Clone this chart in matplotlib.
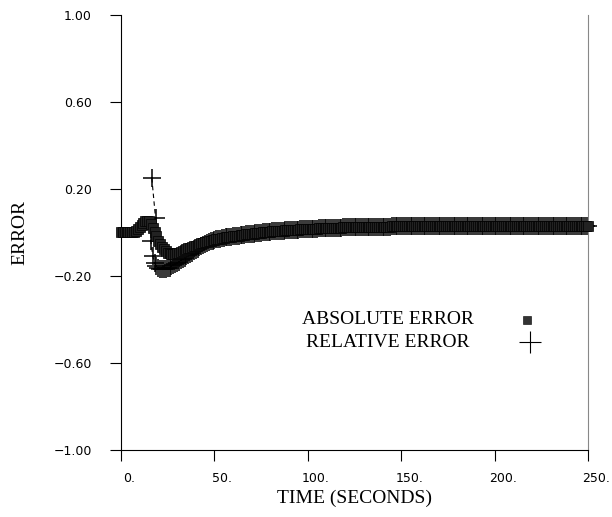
import numpy as np
import matplotlib
matplotlib.use("Agg")
import matplotlib.pyplot as plt
import matplotlib.transforms as mtransforms

# time grid (seconds), one sample per second
time = np.arange(0, 251)

# absolute error, t = 0 .. 250
abs_err = [
    0.000, 0.000, 0.000, 0.000, 0.000, 0.000, 0.000, 0.003, 0.008, 0.015,
    0.024, 0.034, 0.044, 0.051, 0.055, 0.052, 0.040, 0.022, 0.002, -0.018,
    -0.037, -0.053, -0.066, -0.077, -0.085, -0.092, -0.096, -0.099, -0.100, -0.098,
    -0.096, -0.092, -0.088, -0.084, -0.080, -0.077, -0.073, -0.070, -0.066, -0.063,
    -0.060, -0.057, -0.053, -0.050, -0.047, -0.045, -0.042, -0.040, -0.038, -0.036,
    -0.034, -0.032, -0.030, -0.028, -0.027, -0.025, -0.023, -0.022, -0.020, -0.019,
    -0.018, -0.016, -0.015, -0.014, -0.012, -0.011, -0.010, -0.009, -0.008, -0.007,
    -0.006, -0.005, -0.004, -0.003, -0.002, -0.001, 0.000, 0.001, 0.002, 0.003,
    0.004, 0.005, 0.006, 0.006, 0.007, 0.008, 0.008, 0.009, 0.010, 0.010,
    0.011, 0.011, 0.012, 0.012, 0.013, 0.013, 0.014, 0.014, 0.015, 0.015,
    0.016, 0.016, 0.017, 0.017, 0.018, 0.018, 0.019, 0.019, 0.019, 0.020,
    0.020, 0.020, 0.021, 0.021, 0.021, 0.022, 0.022, 0.022, 0.022, 0.023,
    0.023, 0.023, 0.023, 0.024, 0.024, 0.024, 0.024, 0.025, 0.025, 0.025,
    0.025, 0.025, 0.026, 0.026, 0.026, 0.026, 0.026, 0.026, 0.027, 0.027,
    0.027, 0.027, 0.027, 0.027, 0.027, 0.028, 0.028, 0.028, 0.028, 0.028,
    0.028, 0.028, 0.028, 0.028, 0.028, 0.028, 0.028, 0.029, 0.029, 0.029,
    0.029, 0.029, 0.029, 0.029, 0.029, 0.029, 0.029, 0.029, 0.029, 0.029,
    0.029, 0.029, 0.029, 0.029, 0.029, 0.029, 0.029, 0.029, 0.029, 0.029,
    0.029, 0.029, 0.029, 0.029, 0.029, 0.029, 0.029, 0.029, 0.029, 0.029,
    0.030, 0.030, 0.030, 0.030, 0.030, 0.030, 0.030, 0.030, 0.030, 0.030,
    0.030, 0.030, 0.030, 0.030, 0.030, 0.030, 0.030, 0.030, 0.030, 0.030,
    0.030, 0.030, 0.030, 0.030, 0.030, 0.030, 0.030, 0.030, 0.030, 0.030,
    0.030, 0.030, 0.030, 0.030, 0.030, 0.030, 0.030, 0.030, 0.030, 0.030,
    0.030, 0.030, 0.030, 0.030, 0.030, 0.030, 0.030, 0.030, 0.030, 0.030,
    0.030, 0.030, 0.030, 0.030, 0.030, 0.030, 0.030, 0.030, 0.030, 0.030,
    0.030,
]

# relative error: spike after ~16 s, then merges with the absolute curve
rel_time_early = [16.5, 18.5, 16.0, 17.0, 18.0, 19, 20, 21, 22, 23, 24, 25, 26, 27,
                  28, 29, 30, 31, 32, 33, 34, 35, 36, 37, 38, 39, 40, 41, 42, 43,
                  44, 45, 46, 47, 48, 49, 50]
rel_err_early = [0.25, 0.065, -0.04, -0.11, -0.14, -0.155, -0.163, -0.168, -0.170, -0.170,
                 -0.168, -0.165, -0.161, -0.156, -0.151, -0.146, -0.140, -0.134, -0.128,
                 -0.122, -0.116, -0.110, -0.104, -0.098, -0.092, -0.087, -0.080, -0.074,
                 -0.068, -0.062, -0.056, -0.051, -0.047, -0.043, -0.040, -0.038, -0.036]
rel_time = rel_time_early + list(time[51:])
rel_err = rel_err_early + abs_err[51:]

xticks = [0, 50, 100, 150, 200, 250]
xtick_labels = ["0.", "50.", "100.", "150.", "200.", "250."]
yticks = [-1.0, -0.6, -0.2, 0.2, 0.6, 1.0]
ytick_labels = ["\u22121.00", "\u22120.60", "\u22120.20", "0.20", "0.60", "1.00"]

fig = plt.figure(figsize=(6.12, 5.17), dpi=100)
ax = fig.add_axes([0.1977, 0.1296, 0.7631, 0.8414])

ax.plot(rel_time, rel_err, linestyle=(0, (4, 3)), linewidth=0.8, color="black",
        marker="+", markersize=13, markeredgewidth=1.1, clip_on=False, zorder=2)
ax.plot(time, abs_err, linestyle="none", marker="s", markersize=7,
        markerfacecolor="#222222", markeredgecolor="black", markeredgewidth=0.5,
        clip_on=False, zorder=3)

ax.set_xlim(0, 250)
ax.set_ylim(-1.0, 1.0)
ax.set_xticks(xticks)
ax.set_xticklabels(xtick_labels)
ax.set_yticks(yticks)
ax.set_yticklabels(ytick_labels)
ax.tick_params(direction="out", length=8, width=0.8, labelsize=9)
ax.tick_params(axis="y", pad=13)
ax.tick_params(axis="x", pad=8)
offset = mtransforms.ScaledTranslation(8 / 100, 0, fig.dpi_scale_trans)
for lab in ax.get_xticklabels():
    lab.set_transform(lab.get_transform() + offset)

ax.spines["top"].set_visible(False)
ax.spines["right"].set_color("#888888")
for s in ["left", "bottom"]:
    ax.spines[s].set_linewidth(0.8)

serif = "Liberation Serif"
ax.set_xlabel("TIME (SECONDS)", fontsize=14, family=serif, labelpad=3)
ax.set_ylabel("ERROR", fontsize=14, family=serif, labelpad=18)

# legend drawn like the original plot annotations
ax.text(0.572, 0.299, "ABSOLUTE ERROR", transform=ax.transAxes, ha="center",
        va="center", fontsize=14, family=serif)
ax.text(0.572, 0.248, "RELATIVE ERROR", transform=ax.transAxes, ha="center",
        va="center", fontsize=14, family=serif)
ax.plot([0.869], [0.299], transform=ax.transAxes, marker="s", markersize=6,
        markerfacecolor="#333333", markeredgecolor="black", markeredgewidth=0.4)
ax.plot([0.876], [0.248], transform=ax.transAxes, marker="+", markersize=16,
        markeredgewidth=0.8, color="black")

fig.savefig("out.png", dpi=100)
